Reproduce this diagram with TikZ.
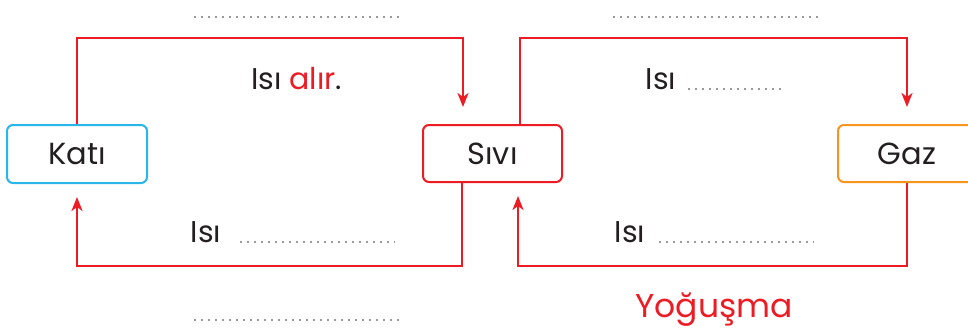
\documentclass[tikz,border=0pt]{standalone}
\usepackage{fontspec}
\setmainfont{Poppins}
\usetikzlibrary{arrows.meta,calc}
\definecolor{myred}{HTML}{ED1C24}
\definecolor{myblue}{HTML}{29B6E8}
\definecolor{myorange}{HTML}{F7941D}
\definecolor{mytext}{HTML}{231F20}
\definecolor{mydots}{HTML}{9A9A9A}
\tikzset{
  statebox/.style={draw, line width=2pt, rounded corners=6pt, minimum width=139pt, minimum height=57pt, inner sep=0pt, text=mytext, font=\fontsize{30.5}{36}\selectfont},
  conn/.style={draw=myred, line width=2.7pt, -{Stealth[length=14pt,width=11pt,inset=4pt]}},
  lbl/.style={inner sep=0pt, text=mytext, font=\fontsize{30}{35}\selectfont},
  blank/.style={draw=mydots, line width=2pt, dash pattern=on 2pt off 5pt},
}
\begin{document}
\begin{tikzpicture}[x=1pt,y=-1pt]
\useasboundingbox (0,0) rectangle (968,329);
\clip (0,0) rectangle (968,329);
\node[statebox, draw=myblue, minimum width=140pt, minimum height=58pt] (kati) at (77,154) {Katı};
\node[statebox, draw=myred] (sivi) at (492.5,153.5) {Sıvı};
\node[statebox, draw=myorange, minimum width=138pt] (gaz) at (907,153.5) {Gaz};
% connectors
\draw[conn] (kati.north) -- ++(0,-86) -| ([xshift=41pt,yshift=17pt]sivi.north west);
\draw[conn] ([xshift=98pt]sivi.north west) -- ++(0,-86) -| ([yshift=17pt]gaz.north);
\draw[conn] ([xshift=40pt]sivi.south west) -- ++(0,83) -| ([yshift=-13pt]kati.south);
\draw[conn] (gaz.south) -- ++(0,83) -| ([xshift=96pt,yshift=-13pt]sivi.south west);
% labels
\node[lbl] (t1) at (296.5,79) {Isı \textcolor{myred}{alır}.};
\node[lbl] (t2) at (661,79) {Isı};
\node[lbl] (t3) at (206,232) {Isı};
\node[lbl] (t4) at (630,232) {Isı};
\node[lbl, text=myred, font=\fontsize{33}{38}\selectfont] (yog) at (714,310) {Yoğuşma};
% blanks
\draw[blank] (194,17) -- (400,17);
\draw[blank] (613,17) -- (818,17);
\draw[blank] (688,89) -- (783,89);
\draw[blank] (240,242) -- (395,242);
\draw[blank] (659,242) -- (814,242);
\draw[blank] (194,320) -- (401,320);
\end{tikzpicture}
\end{document}
